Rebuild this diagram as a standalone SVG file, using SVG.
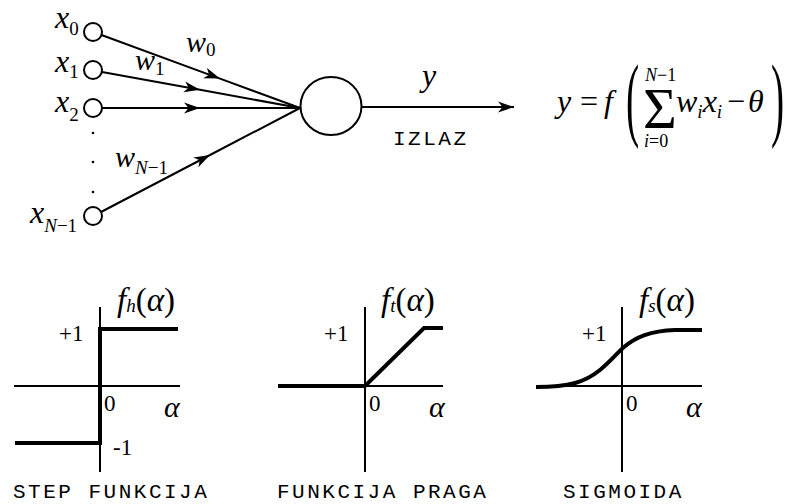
<svg xmlns="http://www.w3.org/2000/svg" width="789" height="504" viewBox="0 0 789 504">
<defs>
<style>
.ln{stroke:#000;stroke-width:2;fill:none}
.thick{stroke:#000;stroke-width:4;fill:none;stroke-linejoin:miter}
.inp{stroke:#000;stroke-width:2;fill:#fff}
.m{font-family:"Liberation Serif","Times New Roman",serif;font-style:italic;fill:#000}
.r{font-family:"Liberation Serif","Times New Roman",serif;font-style:normal;fill:#000}
.mono{font-family:"Liberation Mono","Courier New",monospace;font-size:21px;letter-spacing:2.5px;fill:#000}
</style>
<marker id="arr" markerUnits="userSpaceOnUse" markerWidth="18" markerHeight="12" refX="16" refY="6" orient="auto">
<path d="M0,0.5 L16,6 L0,11.5 L4.5,6 Z" fill="#000"/>
</marker>
</defs>
<rect width="789" height="504" fill="#fff"/>

<g id="connectors">
<path class="ln" d="M101.5,35 L220,78.6 L300,108" marker-mid="url(#arr)"/>
<path class="ln" d="M102,72 L200,89.8 L300,108" marker-mid="url(#arr)"/>
<path class="ln" d="M102,108 L200,108 L300,108" marker-mid="url(#arr)"/>
<path class="ln" d="M101,212 L210,155 L300,108" marker-mid="url(#arr)"/>
<path class="ln" d="M361,107 L514,107" marker-end="url(#arr)"/>
</g>

<g id="input-x0"><circle class="inp" cx="93" cy="32" r="9"/>
<text class="m" x="55" y="28" font-size="32">x<tspan class="r" font-size="19" dy="7">0</tspan></text></g>
<g id="input-x1"><circle class="inp" cx="93" cy="70" r="9"/>
<text class="m" x="55" y="72" font-size="32">x<tspan class="r" font-size="19" dy="6">1</tspan></text></g>
<g id="input-x2"><circle class="inp" cx="93" cy="108" r="9"/>
<text class="m" x="55" y="112" font-size="32">x<tspan class="r" font-size="19" dy="9">2</tspan></text></g>
<g id="dots"><circle cx="93" cy="133" r="1.3"/><circle cx="93" cy="162" r="1.3"/><circle cx="93" cy="192" r="1.3"/></g>
<g id="input-xN"><circle class="inp" cx="93" cy="216" r="9"/>
<text class="m" x="30" y="223" font-size="32">x<tspan font-size="19" dy="9">N</tspan><tspan class="r" font-size="19">−1</tspan></text></g>

<g id="weights">
<text class="m" x="186" y="52" font-size="30">w<tspan class="r" font-size="19" dy="4">0</tspan></text>
<text class="m" x="135" y="70" font-size="30">w<tspan class="r" font-size="19" dy="5">1</tspan></text>
<text class="m" x="115" y="167" font-size="30">w<tspan font-size="19" dy="7">N</tspan><tspan class="r" font-size="19">−1</tspan></text>
</g>

<g id="neuron"><ellipse cx="331" cy="106" rx="30.5" ry="29" class="ln" fill="#fff"/></g>

<g id="output">
<text class="m" x="422" y="86" font-size="32">y</text>
<text class="mono" x="393" y="145">IZLAZ</text>
</g>

<g id="formula">
<text class="m" x="557" y="112" font-size="32">y</text>
<text class="r" x="580" y="112" font-size="32">=</text>
<text class="m" x="604" y="112" font-size="32">f</text>
<text class="r" transform="translate(626,129) scale(0.42,1)" font-size="94">(</text>
<text class="r" x="643" y="128" font-size="58">Σ</text>
<text class="m" x="645" y="81" font-size="18">N<tspan class="r">−1</tspan></text>
<text class="m" x="644" y="147" font-size="18">i<tspan class="r">=0</tspan></text>
<text class="m" x="676" y="112" font-size="32">w<tspan font-size="19" dy="6">i</tspan><tspan dy="-6">x</tspan><tspan font-size="19" dy="6">i</tspan></text>
<text class="r" x="727" y="112" font-size="32">−</text>
<text class="m" x="748" y="112" font-size="32">θ</text>
<text class="r" transform="translate(771,129) scale(0.42,1)" font-size="94">)</text>
</g>

<g id="step-graph">
<line class="ln" x1="100" y1="307" x2="100" y2="472"/>
<line class="ln" x1="14" y1="386" x2="180" y2="386"/>
<polyline class="thick" points="15,443 100,443 100,329 178,329"/>
<text class="m" x="117" y="311" font-size="33">f<tspan font-size="19" dy="1">h</tspan><tspan class="r" dy="-1">(</tspan>α<tspan class="r">)</tspan></text>
<text class="r" x="59" y="341" font-size="23">+1</text>
<text class="r" x="104" y="411" font-size="23">0</text>
<text class="m" x="164" y="417" font-size="30">α</text>
<text class="r" x="113" y="455" font-size="23">-1</text>
<text class="mono" x="13" y="498">STEP FUNKCIJA</text>
</g>

<g id="threshold-graph">
<line class="ln" x1="365" y1="307" x2="365" y2="472"/>
<line class="ln" x1="278" y1="386" x2="443" y2="386"/>
<polyline class="thick" points="278,386 365,386 424,328 443,328"/>
<text class="m" x="381" y="311" font-size="33">f<tspan font-size="19" dy="1">t</tspan><tspan class="r" dy="-1">(</tspan>α<tspan class="r">)</tspan></text>
<text class="r" x="324" y="341" font-size="23">+1</text>
<text class="r" x="369" y="411" font-size="23">0</text>
<text class="m" x="429" y="417" font-size="30">α</text>
<text class="mono" x="277" y="498">FUNKCIJA PRAGA</text>
</g>

<g id="sigmoid-graph">
<line class="ln" x1="622" y1="307" x2="622" y2="472"/>
<line class="ln" x1="536" y1="386" x2="702" y2="386"/>
<path class="thick" d="M536,387 C570,387 585,382 600,370 C612,360 618,352 624,347 C636,337 650,331 675,330 L702,330"/>
<text class="m" x="639" y="311" font-size="33">f<tspan font-size="19" dy="1">s</tspan><tspan class="r" dy="-1">(</tspan>α<tspan class="r">)</tspan></text>
<text class="r" x="582" y="341" font-size="23">+1</text>
<text class="r" x="626" y="411" font-size="23">0</text>
<text class="m" x="686" y="417" font-size="30">α</text>
<text class="mono" x="563" y="498">SIGMOIDA</text>
</g>
</svg>
